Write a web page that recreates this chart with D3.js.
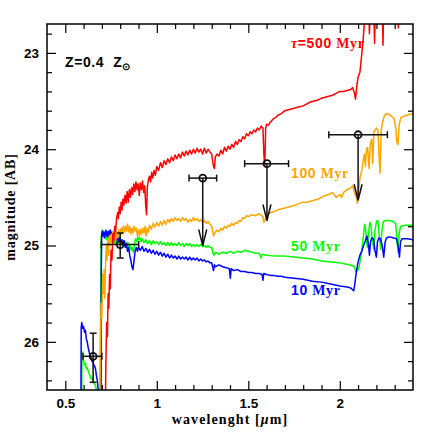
<!DOCTYPE html>
<html>
<head>
<meta charset="utf-8">
<script src="https://cdn.jsdelivr.net/npm/d3@7"></script>
<style>
  body { margin: 0; background: #fff; }
  .tick text { font-family: "Liberation Sans", Arial, sans-serif; font-weight: bold; font-size: 13.5px; fill: #000; }
  .tick line { stroke: #000; stroke-width: 1.2; }
  .lbl { font-weight: bold; font-size: 14px; }
</style>
</head>
<body>
<div id="chart"></div>
<script>
// spectra: [wavelength (um), AB magnitude]
var tau500 = [[0.718,26.8],[0.722,26.2],[0.726,25.8],[0.730,25.95],[0.734,25.5],[0.738,25.65],[0.742,25.3],[0.746,25.45],
  [0.750,25.05],[0.755,25.15],[0.760,24.88],[0.765,24.95],[0.770,24.80],[0.775,24.86],[0.780,24.72],[0.786,24.66],[0.790,24.72],
  [0.795,24.60],[0.800,24.67],[0.805,24.55],[0.810,24.63],[0.815,24.52],[0.820,24.58],[0.826,24.48],[0.832,24.56],[0.838,24.44],
  [0.844,24.55],[0.850,24.42],[0.856,24.50],[0.862,24.40],[0.868,24.47],[0.874,24.36],[0.880,24.44],[0.886,24.34],[0.892,24.42],
  [0.898,24.36],[0.904,24.48],[0.910,24.35],[0.916,24.42],[0.922,24.33],[0.928,24.45],[0.934,24.38],[0.940,24.60],[0.944,24.68],
  [0.948,24.40],[0.954,24.32],[0.960,24.28],[0.966,24.34],[0.972,24.24],[0.978,24.30],[0.985,24.22],[0.992,24.27],[1.000,24.18],
  [1.010,24.22],[1.020,24.14],[1.030,24.19],[1.040,24.12],[1.050,24.16],[1.060,24.10],[1.070,24.14],[1.080,24.08],[1.090,24.12],
  [1.100,24.06],[1.110,24.10],[1.120,24.05],[1.130,24.09],[1.140,24.03],[1.150,24.07],[1.160,24.02],[1.170,24.06],[1.180,24.01],
  [1.190,24.05],[1.200,24.00],[1.210,24.04],[1.220,23.99],[1.230,24.03],[1.240,24.00],[1.250,24.05],[1.260,23.99],[1.270,24.04],
  [1.280,24.00],[1.290,24.03],[1.300,24.05],[1.305,24.12],[1.310,24.18],[1.315,24.20],[1.320,24.08],[1.330,24.05],[1.340,24.07],
  [1.350,24.01],[1.360,24.05],[1.370,23.98],[1.380,24.02],[1.390,23.97],[1.400,24.00],[1.410,23.95],[1.420,23.98],[1.430,23.92],
  [1.440,23.95],[1.450,23.90],[1.460,23.92],[1.470,23.87],[1.480,23.89],[1.490,23.84],[1.500,23.86],[1.510,23.82],[1.520,23.84],
  [1.530,23.80],[1.540,23.82],[1.550,23.78],[1.560,23.80],[1.570,23.76],[1.580,23.78],[1.585,24.05],[1.590,24.18],[1.595,23.78],
  [1.600,23.74],[1.610,23.75],[1.620,23.72],[1.630,23.70],[1.640,23.68],[1.650,23.67],[1.660,23.65],[1.680,23.63],[1.700,23.60],
  [1.720,23.59],[1.740,23.58],[1.760,23.57],[1.780,23.56],[1.800,23.55],[1.820,23.53],[1.840,23.51],[1.860,23.50],[1.880,23.49],
  [1.900,23.47],[1.920,23.46],[1.940,23.45],[1.960,23.44],[1.980,23.42],[2.000,23.40],[2.020,23.40],[2.040,23.39],[2.060,23.38],
  [2.070,23.36],[2.080,23.42],[2.086,23.48],[2.092,23.36],[2.100,23.25],[2.110,23.20],[2.118,23.05],[2.126,22.90],[2.134,22.70],
  [2.140,22.55],[2.150,22.50],[2.158,22.55],[2.162,22.80],[2.166,22.55],[2.185,22.50],[2.190,22.90],[2.195,22.50],[2.232,22.50],
  [2.236,22.92],[2.240,22.50],[2.316,22.50],[2.320,22.74],[2.324,22.50],[2.400,22.50]];

var tau100 = [[0.688,26.8],[0.692,26.0],[0.696,25.6],[0.700,25.75],[0.704,25.3],[0.708,25.5],[0.712,25.25],[0.716,25.55],
  [0.720,25.20],[0.724,25.00],[0.728,25.15],[0.732,24.95],[0.736,25.10],[0.740,24.90],[0.745,25.00],[0.750,24.88],[0.755,24.96],
  [0.760,24.86],[0.765,24.94],[0.770,24.88],[0.775,24.95],[0.780,24.87],[0.786,24.92],[0.792,24.84],[0.798,24.90],[0.804,24.82],
  [0.810,24.88],[0.816,24.80],[0.822,24.86],[0.828,24.80],[0.834,24.85],[0.840,24.78],[0.846,24.86],[0.852,24.80],[0.858,24.88],
  [0.864,24.82],[0.870,24.87],[0.876,24.80],[0.882,24.85],[0.888,24.82],[0.894,24.90],[0.900,24.84],[0.906,24.90],[0.912,24.83],
  [0.918,24.88],[0.924,24.82],[0.930,24.87],[0.936,24.80],[0.942,24.90],[0.948,24.82],[0.954,24.86],[0.960,24.79],[0.970,24.83],
  [0.980,24.77],[0.990,24.81],[1.000,24.76],[1.010,24.80],[1.020,24.75],[1.030,24.79],[1.040,24.74],[1.050,24.78],[1.060,24.73],
  [1.070,24.76],[1.080,24.72],[1.090,24.75],[1.100,24.71],[1.110,24.74],[1.120,24.72],[1.130,24.75],[1.140,24.71],[1.150,24.74],
  [1.160,24.72],[1.170,24.76],[1.180,24.73],[1.190,24.75],[1.200,24.71],[1.210,24.74],[1.220,24.72],[1.230,24.75],[1.240,24.73],
  [1.250,24.76],[1.260,24.74],[1.270,24.77],[1.280,24.75],[1.290,24.78],[1.300,24.80],[1.305,24.85],[1.310,24.90],[1.320,24.86],
  [1.330,24.84],[1.340,24.86],[1.350,24.82],[1.360,24.84],[1.370,24.80],[1.380,24.82],[1.390,24.79],[1.400,24.80],[1.410,24.77],
  [1.420,24.79],[1.430,24.76],[1.440,24.77],[1.450,24.74],[1.460,24.75],[1.470,24.71],[1.480,24.72],[1.490,24.69],[1.500,24.70],
  [1.520,24.68],[1.540,24.69],[1.560,24.67],[1.580,24.70],[1.585,24.76],[1.590,24.74],[1.600,24.69],[1.620,24.66],[1.640,24.65],
  [1.660,24.63],[1.680,24.62],[1.700,24.61],[1.720,24.60],[1.740,24.59],[1.760,24.58],[1.780,24.56],[1.800,24.55],[1.820,24.55],
  [1.840,24.54],[1.860,24.53],[1.880,24.52],[1.900,24.50],[1.920,24.48],[1.940,24.47],[1.960,24.45],[1.980,24.50],[2.000,24.47],
  [2.010,24.50],[2.020,24.45],[2.040,24.42],[2.060,24.40],[2.070,24.38],[2.080,24.45],[2.090,24.50],[2.096,24.56],[2.102,24.45],
  [2.110,24.30],[2.120,24.22],[2.128,24.12],[2.134,24.05],[2.140,24.18],[2.146,24.00],[2.152,23.98],[2.160,24.20],[2.166,23.95],
  [2.174,23.90],[2.180,24.15],[2.186,23.82],[2.194,23.80],[2.200,23.78],[2.208,23.80],[2.214,24.05],[2.220,24.25],[2.226,23.80],
  [2.234,23.72],[2.244,23.65],[2.256,23.63],[2.270,23.64],[2.284,23.66],[2.296,23.68],[2.306,23.78],[2.312,23.93],[2.318,23.95],
  [2.324,23.75],[2.334,23.67],[2.360,23.65],[2.400,23.63]];

var tau50 = [[0.589,26.8],[0.591,26.10],[0.596,26.15],[0.600,26.20],[0.605,26.24],[0.610,26.22],[0.615,26.28],[0.620,26.27],
  [0.625,26.30],[0.630,26.33],[0.635,26.35],[0.640,26.38],[0.645,26.37],[0.650,26.40],[0.655,26.42],[0.660,26.44],[0.665,26.45],
  [0.670,26.50],[0.676,26.8],[0.690,26.8],[0.693,25.6],[0.696,24.90],[0.700,24.88],[0.704,24.84],[0.708,24.90],[0.712,24.86],
  [0.716,24.92],[0.720,24.88],[0.724,24.94],[0.728,24.87],[0.732,24.93],[0.736,24.90],[0.740,24.95],[0.746,24.90],[0.752,24.96],
  [0.758,24.92],[0.764,24.98],[0.770,24.94],[0.776,24.99],[0.782,24.95],[0.788,24.98],[0.794,24.93],[0.800,24.97],[0.806,24.94],
  [0.812,24.99],[0.818,24.95],[0.824,25.00],[0.830,24.96],[0.836,25.01],[0.842,24.97],[0.848,25.03],[0.854,25.00],[0.860,25.05],
  [0.866,25.02],[0.872,25.07],[0.878,24.98],[0.884,24.93],[0.890,24.96],[0.896,24.91],[0.902,24.94],[0.908,24.92],[0.914,24.96],
  [0.920,24.93],[0.930,24.97],[0.940,24.94],[0.950,24.98],[0.960,24.95],[0.970,24.99],[0.980,24.95],[0.990,24.98],[1.000,24.96],
  [1.010,24.99],[1.020,24.96],[1.030,24.99],[1.040,24.97],[1.050,25.00],[1.060,24.97],[1.070,25.00],[1.080,24.97],[1.090,25.00],
  [1.100,24.98],[1.110,25.00],[1.120,24.97],[1.130,25.00],[1.140,24.98],[1.150,25.01],[1.160,24.98],[1.170,25.00],[1.180,24.98],
  [1.190,25.01],[1.200,24.99],[1.210,25.01],[1.220,24.99],[1.230,25.01],[1.240,24.99],[1.250,25.01],[1.260,25.00],[1.270,25.02],
  [1.280,25.00],[1.290,25.02],[1.300,25.02],[1.306,25.07],[1.312,25.10],[1.320,25.07],[1.340,25.09],[1.360,25.07],[1.380,25.08],
  [1.400,25.06],[1.420,25.08],[1.440,25.06],[1.460,25.07],[1.480,25.05],[1.500,25.06],[1.520,25.07],[1.540,25.08],[1.560,25.08],
  [1.570,25.13],[1.576,25.09],[1.600,25.10],[1.650,25.11],[1.700,25.11],[1.750,25.12],[1.800,25.13],[1.850,25.14],[1.900,25.16],
  [1.950,25.17],[2.000,25.18],[2.050,25.20],[2.070,25.21],[2.080,25.22],[2.088,25.27],[2.098,25.26],[2.106,25.22],[2.114,25.12],
  [2.122,25.02],[2.130,24.88],[2.136,24.78],[2.142,24.85],[2.150,25.02],[2.156,24.90],[2.164,24.76],[2.170,24.78],[2.178,24.95],
  [2.186,25.04],[2.192,24.85],[2.200,24.75],[2.208,24.74],[2.216,24.90],[2.224,25.04],[2.230,24.85],[2.238,24.75],[2.250,24.74],
  [2.270,24.74],[2.290,24.75],[2.305,24.77],[2.312,24.92],[2.318,25.07],[2.324,24.88],[2.332,24.80],[2.360,24.79],[2.400,24.79]];

var tau10 = [[0.585,26.8],[0.587,25.85],[0.590,25.80],[0.595,25.86],[0.600,25.84],[0.605,25.90],[0.610,25.88],[0.615,25.97],
  [0.620,26.00],[0.625,26.06],[0.630,26.10],[0.635,26.14],[0.640,26.16],[0.645,26.20],[0.650,26.18],[0.655,26.24],[0.660,26.25],
  [0.665,26.28],[0.670,26.35],[0.675,26.40],[0.680,26.50],[0.686,26.8],[0.695,26.8],[0.697,25.2],[0.699,24.88],[0.702,24.85],
  [0.706,24.90],[0.710,24.86],[0.714,24.92],[0.718,24.87],[0.722,24.84],[0.726,24.90],[0.730,24.86],[0.734,24.91],[0.738,24.85],
  [0.742,24.89],[0.746,24.84],[0.750,24.90],[0.755,24.86],[0.760,24.92],[0.765,24.87],[0.770,24.93],[0.775,24.88],[0.780,24.95],
  [0.786,24.90],[0.792,24.96],[0.798,24.92],[0.804,24.98],[0.810,24.94],[0.816,25.00],[0.822,24.95],[0.828,25.02],[0.834,24.98],
  [0.840,25.06],[0.846,25.02],[0.852,25.10],[0.858,25.15],[0.864,25.22],[0.870,25.25],[0.876,25.15],[0.882,25.05],[0.888,25.02],
  [0.894,25.06],[0.900,25.02],[0.910,25.05],[0.920,25.01],[0.930,25.06],[0.940,25.03],[0.950,25.07],[0.960,25.04],[0.970,25.08],
  [0.980,25.05],[0.990,25.09],[1.000,25.06],[1.010,25.10],[1.020,25.07],[1.030,25.11],[1.040,25.08],[1.050,25.12],[1.060,25.09],
  [1.070,25.13],[1.080,25.10],[1.090,25.13],[1.100,25.11],[1.110,25.14],[1.120,25.11],[1.130,25.14],[1.140,25.12],[1.150,25.14],
  [1.160,25.12],[1.170,25.15],[1.180,25.12],[1.190,25.15],[1.200,25.13],[1.210,25.15],[1.220,25.13],[1.230,25.16],[1.240,25.14],
  [1.250,25.16],[1.260,25.15],[1.270,25.17],[1.280,25.16],[1.290,25.18],[1.300,25.18],[1.305,25.22],[1.310,25.26],[1.315,25.20],
  [1.320,25.22],[1.340,25.20],[1.360,25.22],[1.380,25.23],[1.396,25.24],[1.402,25.34],[1.406,25.24],[1.420,25.26],[1.440,25.25],
  [1.460,25.27],[1.480,25.27],[1.500,25.28],[1.520,25.28],[1.540,25.29],[1.560,25.29],[1.575,25.30],[1.580,25.36],[1.585,25.29],
  [1.600,25.30],[1.620,25.31],[1.640,25.31],[1.660,25.32],[1.680,25.32],[1.700,25.33],[1.750,25.34],[1.800,25.35],[1.850,25.37],
  [1.900,25.38],[1.950,25.40],[2.000,25.42],[2.040,25.43],[2.060,25.44],[2.070,25.46],[2.076,25.47],[2.082,25.40],[2.090,25.28],
  [2.100,25.17],[2.110,25.10],[2.120,25.06],[2.130,25.00],[2.140,24.95],[2.148,24.90],[2.156,24.98],[2.162,25.10],[2.168,24.96],
  [2.176,24.92],[2.184,24.93],[2.192,25.05],[2.200,25.12],[2.206,24.96],[2.214,24.92],[2.222,24.93],[2.232,25.00],[2.240,25.12],
  [2.248,24.96],[2.256,24.92],[2.270,24.91],[2.290,24.92],[2.310,24.93],[2.320,25.02],[2.326,25.12],[2.332,24.96],[2.340,24.93],
  [2.370,24.93],[2.400,24.94]];

// photometry with errors
var detections = [
  {w: 0.652, m: 26.15, wlo: 0.597, whi: 0.700, mlo: 25.91, mhi: 26.42},
  {w: 0.800, m: 24.99, wlo: 0.697, whi: 0.901, mlo: 24.87, mhi: 25.13}
];
// upper limits (arrow down to "tip")
var limits = [
  {w: 1.251, m: 24.30, wlo: 1.176, whi: 1.327, tip: 25.00},
  {w: 1.602, m: 24.15, wlo: 1.480, whi: 1.720, tip: 24.74},
  {w: 2.100, m: 23.85, wlo: 1.940, whi: 2.260, tip: 24.53}
];

var xMajor = [0.5, 1, 1.5, 2];
var yMajor = [23, 24, 25, 26];

var W = 436, H = 436;
var margin = {top: 24, right: 23, bottom: 46, left: 47};
var x = d3.scaleLinear().domain([0.4, 2.4]).range([margin.left, W - margin.right]);
var y = d3.scaleLinear().domain([22.7, 26.5]).range([margin.top, H - margin.bottom]);

var svg = d3.select("#chart").append("svg")
    .attr("width", W).attr("height", H);

svg.append("clipPath").attr("id", "clip")
  .append("rect")
    .attr("x", x(0.4)).attr("y", y(22.7))
    .attr("width", x(2.4) - x(0.4)).attr("height", y(26.5) - y(22.7));

var xMinor = d3.range(5, 24).map(function (i) { return i / 10; }).filter(function (v) { return xMajor.indexOf(v) < 0; });
var yMinor = d3.range(114, 133).map(function (i) { return i / 5; }).filter(function (v) { return yMajor.indexOf(v) < 0; });

function axes(gen, scale, major, minor, pos, labels) {
  var g = svg.append("g").attr("transform", pos);
  g.call(gen(scale).tickValues(major).tickSize(-9).tickPadding(labels ? 8 : 0)
      .tickFormat(labels ? d3.format("") : ""));
  g.call(function (s) { s.select(".domain").remove(); });
  var g2 = svg.append("g").attr("transform", pos);
  g2.call(gen(scale).tickValues(minor).tickSize(-5).tickFormat(""));
  g2.select(".domain").remove();
  return g;
}
axes(d3.axisBottom, x, xMajor, xMinor, "translate(0," + y(26.5) + ")", true);
axes(d3.axisTop, x, xMajor, xMinor, "translate(0," + y(22.7) + ")", false);
axes(d3.axisLeft, y, yMajor, yMinor, "translate(" + x(0.4) + ",0)", true);
axes(d3.axisRight, y, yMajor, yMinor, "translate(" + x(2.4) + ",0)", false);

// spectra
var line = d3.line().x(function (d) { return x(d[0]); }).y(function (d) { return y(d[1]); });
var series = [
  {data: tau50, color: "#00ff00"},
  {data: tau10, color: "#0000ff"},
  {data: tau100, color: "#ffa500"},
  {data: tau500, color: "#ff0000"}
];
svg.append("g").attr("clip-path", "url(#clip)")
  .selectAll("path").data(series).enter().append("path")
    .attr("d", function (d) { return line(d.data); })
    .attr("fill", "none")
    .attr("stroke", function (d) { return d.color; })
    .attr("stroke-width", 1.5)
    .attr("stroke-linejoin", "round");

// frame
svg.append("rect")
    .attr("x", x(0.4)).attr("y", y(22.7))
    .attr("width", x(2.4) - x(0.4)).attr("height", y(26.5) - y(22.7))
    .attr("fill", "none").attr("stroke", "#000").attr("stroke-width", 1.5);

// error bars
var pts = svg.append("g").attr("stroke", "#111").attr("stroke-width", 1.5).attr("fill", "none");
var cap = 3.5, r = 3.5;
detections.concat(limits).forEach(function (d) {
  pts.append("line").attr("x1", x(d.wlo)).attr("x2", x(d.whi)).attr("y1", y(d.m)).attr("y2", y(d.m));
  pts.append("line").attr("x1", x(d.wlo)).attr("x2", x(d.wlo)).attr("y1", y(d.m) - cap).attr("y2", y(d.m) + cap);
  pts.append("line").attr("x1", x(d.whi)).attr("x2", x(d.whi)).attr("y1", y(d.m) - cap).attr("y2", y(d.m) + cap);
});
detections.forEach(function (d) {
  pts.append("line").attr("x1", x(d.w)).attr("x2", x(d.w)).attr("y1", y(d.mlo)).attr("y2", y(d.mhi));
  pts.append("line").attr("x1", x(d.w) - cap).attr("x2", x(d.w) + cap).attr("y1", y(d.mlo)).attr("y2", y(d.mlo));
  pts.append("line").attr("x1", x(d.w) - cap).attr("x2", x(d.w) + cap).attr("y1", y(d.mhi)).attr("y2", y(d.mhi));
});
limits.forEach(function (d) {
  pts.append("line").attr("x1", x(d.w)).attr("x2", x(d.w)).attr("y1", y(d.m)).attr("y2", y(d.tip));
  pts.append("path")
    .attr("d", "M" + (x(d.w) - 4) + "," + (y(d.tip) - 16) + "L" + x(d.w) + "," + y(d.tip) + "L" + (x(d.w) + 4) + "," + (y(d.tip) - 16));
});
detections.concat(limits).forEach(function (d) {
  pts.append("circle").attr("cx", x(d.w)).attr("cy", y(d.m)).attr("r", r).attr("stroke-width", 1.8);
});

// labels
var serif = "'Liberation Serif', 'Times New Roman', serif";
var sans = "'Liberation Sans', Arial, sans-serif";
function label(parts, px, py, color) {
  var t = svg.append("text").attr("class", "lbl").attr("x", px).attr("y", py).attr("fill", color)
      .attr("letter-spacing", "0.6px");
  parts.forEach(function (p) {
    var s = t.append("tspan").attr("font-family", p[1] === "s" ? sans : serif).text(p[0]);
    if (p[1] === "i") s.attr("font-style", "italic");
    if (p[2]) s.attr("dy", p[2]).attr("font-size", p[3]);
  });
  return t;
}
label([["\u03C4", "i"], ["=500 ", "s"], ["Myr", "r"]], 291, 48, "#ff0000").attr("xml:space", "preserve");
label([["100 ", "s"], ["Myr", "r"]], 291, 178, "#ffa500").attr("xml:space", "preserve");
label([["50 ", "s"], ["Myr", "r"]], 291, 251, "#00ff00").attr("xml:space", "preserve");
label([["10 ", "s"], ["Myr", "r"]], 291, 295, "#0000ff").attr("xml:space", "preserve");
label([["Z=0.4  Z", "s"], ["\u2299", "s", 3, "10px"]], 65, 67, "#000").attr("xml:space", "preserve");

var xt = svg.append("text").attr("class", "lbl")
    .attr("x", (x(0.4) + x(2.4)) / 2).attr("y", 424)
    .attr("text-anchor", "middle").attr("font-family", serif)
    .attr("letter-spacing", "1.1px");
xt.append("tspan").text("wavelenght [");
xt.append("tspan").attr("font-style", "italic").text("\u03BC");
xt.append("tspan").text("m]");

svg.append("text").attr("class", "lbl")
    .attr("transform", "translate(15," + (y(22.7) + y(26.5)) / 2 + ") rotate(-90)")
    .attr("text-anchor", "middle").attr("font-family", serif)
    .attr("letter-spacing", "0.8px")
    .text("magnitude [AB]");
</script>
</body>
</html>
